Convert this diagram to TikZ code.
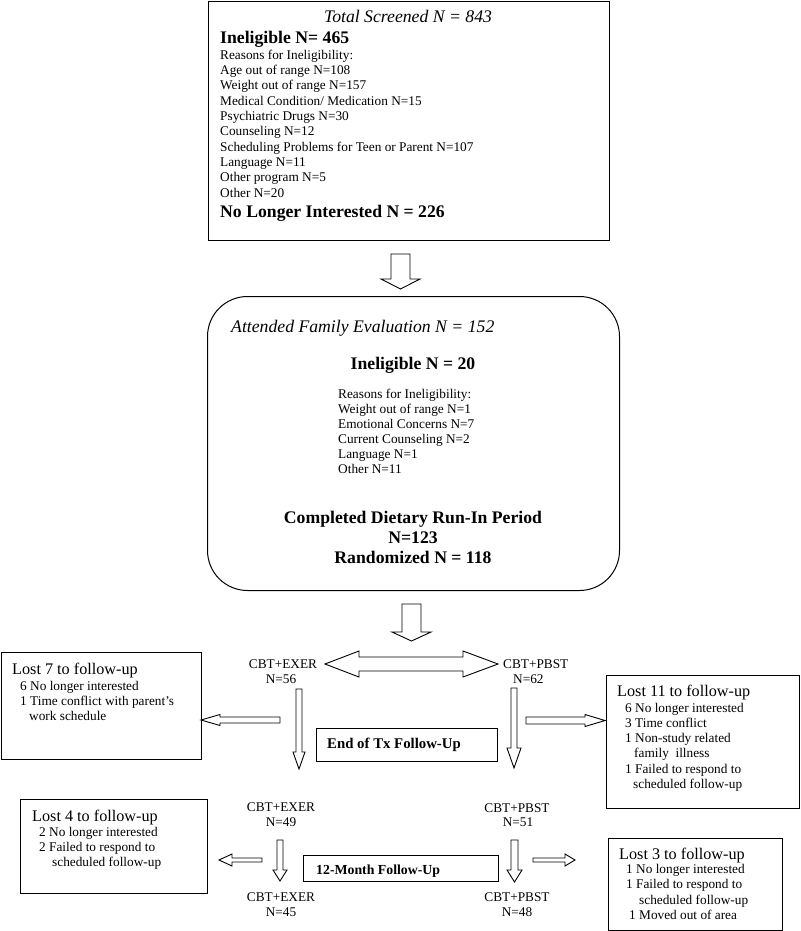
\documentclass[tikz,border=0pt]{standalone}
\usepackage{fontspec}
\setmainfont{Liberation Serif}
\tikzset{
  box/.style={draw, line width=1pt, inner sep=0pt, anchor=north west},
  blk/.style={draw, line width=0.9pt, fill=white, line join=miter},
  sm/.style={font=\fontsize{13.3}{15.3}\selectfont, inner sep=0pt},
  bigb/.style={font=\fontsize{17.7}{20}\selectfont\bfseries, inner sep=0pt},
  bigi/.style={font=\fontsize{17.7}{20}\selectfont\itshape, inner sep=0pt},
  lost/.style={font=\fontsize{16.2}{18}\selectfont, inner sep=0pt},
  midb/.style={font=\fontsize{14.8}{17}\selectfont\bfseries, inner sep=0pt},
  midc/.style={font=\fontsize{13.8}{16}\selectfont\bfseries, inner sep=0pt},
}
% down arrow: x, ytop, ytip, shaft half, head half, head length
\newcommand{\DArr}[6]{\draw[blk] ({#1-#4},#2) -- ({#1+#4},#2) -- ({#1+#4},{#3-#6}) -- ({#1+#5},{#3-#6}) -- (#1,#3) -- ({#1-#5},{#3-#6}) -- ({#1-#4},{#3-#6}) -- cycle;}
% right arrow: y, xtail, xtip, shaft half, head half, head length
\newcommand{\RArr}[6]{\draw[blk] (#2,{#1-#4}) -- ({#3-#6},{#1-#4}) -- ({#3-#6},{#1-#5}) -- (#3,#1) -- ({#3-#6},{#1+#5}) -- ({#3-#6},{#1+#4}) -- (#2,{#1+#4}) -- cycle;}
% left arrow: y, xtail, xtip, shaft half, head half, head length
\newcommand{\LArr}[6]{\draw[blk] (#2,{#1-#4}) -- ({#3+#6},{#1-#4}) -- ({#3+#6},{#1-#5}) -- (#3,#1) -- ({#3+#6},{#1+#5}) -- ({#3+#6},{#1+#4}) -- (#2,{#1+#4}) -- cycle;}
\begin{document}
\begin{tikzpicture}[x=1pt,y=-1pt]
\useasboundingbox (0,0) rectangle (800,931);

% ---------- top box ----------
\node[box, minimum width=401pt, minimum height=239pt] (topbox) at (208,1) {};
\node[bigi, anchor=base] (toptitle) at (408,22.7) {Total Screened N = 843};
\node[bigb, anchor=base west] (topinel) at (220,44) {Ineligible N= 465};
\foreach \t [count=\k from 0] in {{Reasons for Ineligibility:},{Age out of range N=108},{Weight out of range N=157},{Medical Condition/ Medication N=15},{Psychiatric Drugs N=30},{Counseling N=12},{Scheduling Problems for Teen or Parent N=107},{Language N=11},{Other program N=5},{Other N=20}}
  \node[sm, anchor=base west] (topr\k) at (220,{59.3+15.3*\k}) {\t};
\node[bigb, anchor=base west] (topnl) at (220,217.3) {No Longer Interested N = 226};

\DArr{400.5}{254}{289}{9.5}{19.5}{10}

% ---------- second box ----------
\node[box, rounded corners=40pt, minimum width=412pt, minimum height=294pt] (evalbox) at (207,296) {};
\node[bigi, anchor=base west] (evtitle) at (231,332.7) {Attended Family Evaluation N = 152};
\node[bigb, anchor=base] (evinel) at (413,369.3) {Ineligible N = 20};
\foreach \t [count=\k from 0] in {{Reasons for Ineligibility:},{Weight out of range N=1},{Emotional Concerns N=7},{Current Counseling N=2},{Language N=1},{Other N=11}}
  \node[sm, anchor=base west] (evr\k) at (338,{398.3+15*\k}) {\t};
\node[bigb, anchor=base] (evc1) at (413,523.3) {Completed Dietary Run-In Period};
\node[bigb, anchor=base] (evc2) at (413,543.3) {N=123};
\node[bigb, anchor=base] (evc3) at (413,563.3) {Randomized N = 118};

\DArr{411.5}{604}{641}{9.5}{19.5}{9}

% double arrow
\draw[blk] (325,664) -- (359,651) -- (359,657) -- (463,657) -- (463,651) -- (498,664) -- (463,677) -- (463,671) -- (359,671) -- (359,677) -- cycle;

% ---------- groups ----------
\node[sm, anchor=base] (ex56a) at (283,668.3) {CBT+EXER};
\node[sm, anchor=base] (ex56b) at (281,683.3) {N=56};
\node[sm, anchor=base west] (pb62a) at (503,668.3) {CBT+PBST};
\node[sm, anchor=base west] (pb62b) at (513,683.3) {N=62};

\DArr{299}{689}{769}{3}{6}{17}
\DArr{514}{688}{768}{3}{7}{20}
\LArr{720}{280}{201}{3}{5.5}{19}
\RArr{720.5}{526}{605}{3.5}{6}{20}

% Lost 7
\node[box, minimum width=200pt, minimum height=107pt] (lost7) at (1,652) {};
\node[lost, anchor=base west] (l7t) at (12,674) {Lost 7 to follow-up};
\node[sm, anchor=base west] (l7a) at (20,690) {6 No longer interested};
\node[sm, anchor=base west] (l7b) at (20,705) {1 Time conflict with parent’s};
\node[sm, anchor=base west] (l7c) at (29,720) {work schedule};

% End of Tx
\node[box, minimum width=181pt, minimum height=33pt] (endtx) at (316,728) {};
\node[midb, anchor=base west] (endtxt) at (327,748.3) {End of Tx Follow-Up};

% Lost 11
\node[box, minimum width=192.5pt, minimum height=133pt] (lost11) at (606,675) {};
\node[lost, anchor=base west] (l11t) at (617,696.7) {Lost 11 to follow-up};
\node[sm, anchor=base west] (l11a) at (625,712.3) {6 No longer interested};
\node[sm, anchor=base west] (l11b) at (625,727.3) {3 Time conflict};
\node[sm, anchor=base west] (l11c) at (625,742.3) {1 Non-study related};
\node[sm, anchor=base west] (l11d) at (634,757.3) {family~ illness};
\node[sm, anchor=base west] (l11e) at (625,773.3) {1 Failed to respond to};
\node[sm, anchor=base west] (l11f) at (633,788.3) {scheduled follow-up};

% 12 month row
\node[sm, anchor=base] (ex49a) at (281,811.7) {CBT+EXER};
\node[sm, anchor=base] (ex49b) at (281,826) {N=49};
\node[sm, anchor=base] (pb51a) at (517,812.3) {CBT+PBST};
\node[sm, anchor=base] (pb51b) at (518,826.7) {N=51};

\DArr{280}{840}{881}{3}{7}{11}
\DArr{514.5}{840}{882}{3.5}{7.5}{12}
\LArr{860}{262}{219}{2}{6}{13}
\RArr{860}{533}{575}{2}{6}{10}

\node[box, minimum width=195pt, minimum height=26pt] (mon12) at (303,855) {};
\node[midc, anchor=base west] (mon12t) at (316,874) {12-Month Follow-Up};

\node[sm, anchor=base] (ex45a) at (281,901.7) {CBT+EXER};
\node[sm, anchor=base] (ex45b) at (281,916.7) {N=45};
\node[sm, anchor=base] (pb48a) at (517,901.7) {CBT+PBST};
\node[sm, anchor=base] (pb48b) at (517,916.7) {N=48};

% Lost 4
\node[box, minimum width=187pt, minimum height=94pt] (lost4) at (20,799) {};
\node[lost, anchor=base west] (l4t) at (32,821.7) {Lost 4 to follow-up};
\node[sm, anchor=base west] (l4a) at (39,836) {2 No longer interested};
\node[sm, anchor=base west] (l4b) at (39,851) {2 Failed to respond to};
\node[sm, anchor=base west] (l4c) at (52,866) {scheduled follow-up};

% Lost 3
\node[box, minimum width=174pt, minimum height=92pt] (lost3) at (608,838) {};
\node[lost, anchor=base west] (l3t) at (619,859) {Lost 3 to follow-up};
\node[sm, anchor=base west] (l3a) at (626,873.3) {1 No longer interested};
\node[sm, anchor=base west] (l3b) at (626,888.3) {1 Failed to respond to};
\node[sm, anchor=base west] (l3c) at (639,904) {scheduled follow-up};
\node[sm, anchor=base west] (l3d) at (629,919) {1 Moved out of area};
\end{tikzpicture}
\end{document}
